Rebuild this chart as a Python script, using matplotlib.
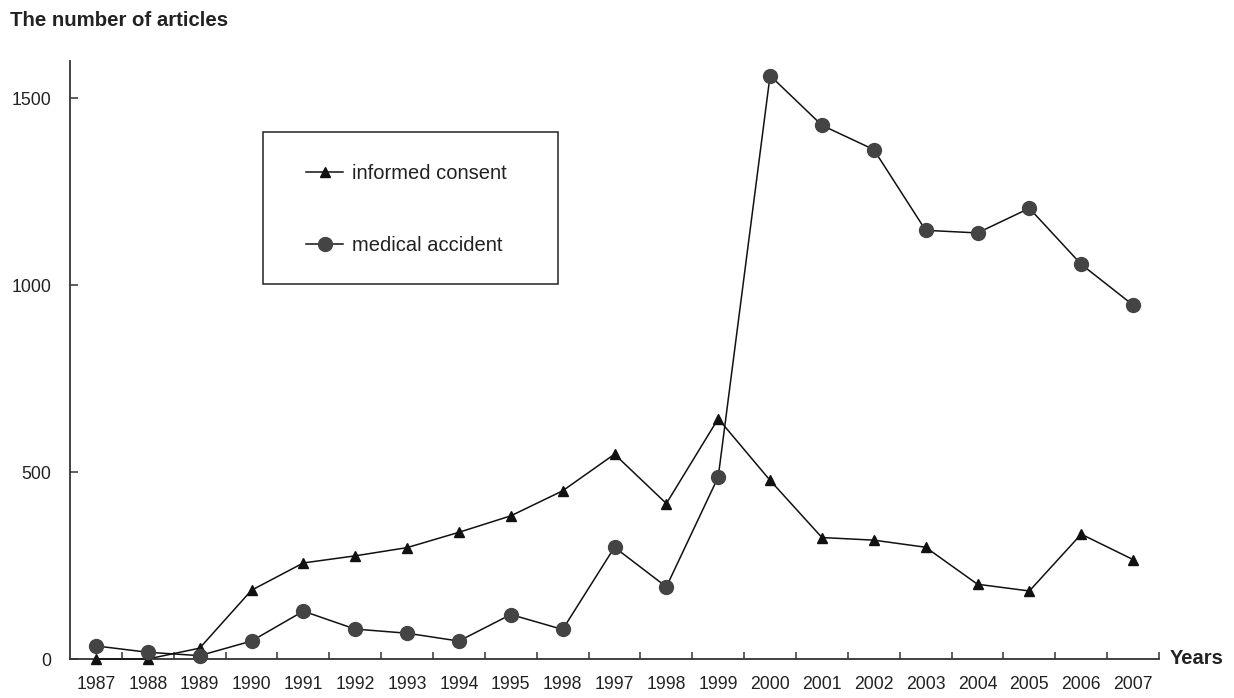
import matplotlib
matplotlib.use("Agg")
import matplotlib.pyplot as plt
import numpy as np
from matplotlib.patches import Rectangle

plt.rcParams['font.family'] = ['Liberation Sans', 'DejaVu Sans']

# tick labels as printed in the source (1996 is printed as "1998")
years = ["1987", "1988", "1989", "1990", "1991", "1992", "1993", "1994", "1995", "1998",
         "1997", "1998", "1999", "2000", "2001", "2002", "2003", "2004", "2005", "2006", "2007"]
informed_consent = [0, 0, 29, 184, 257, 276, 298, 339, 383, 450,
                    548, 416, 643, 478, 325, 318, 299, 200, 182, 334, 266]
medical_accident = [35, 18, 9, 48, 128, 80, 69, 48, 119, 79,
                    299, 193, 487, 1561, 1428, 1363, 1147, 1140, 1206, 1056, 947]

fig = plt.figure(figsize=(12.34, 6.98), dpi=100)
ax = fig.add_axes([70/1234, 39/698, (1159-70)/1234, (659-61)/698])

x = np.arange(len(years))
ax.plot(x, informed_consent, '-', color='#111111', lw=1.1, marker='^', ms=7,
        mfc='#111111', mec='#111111', label='informed consent', clip_on=False, zorder=3)
ax.plot(x, medical_accident, '-', color='#111111', lw=1.1, marker='o', ms=10,
        mfc='#444444', mec='#444444', label='medical accident', clip_on=False, zorder=3)

ax.set_xlim(-0.5, 20.5)
ax.set_ylim(0, 1600)

for s in ['top', 'right']:
    ax.spines[s].set_visible(False)
for s in ['left', 'bottom']:
    ax.spines[s].set_color('#333333')
    ax.spines[s].set_linewidth(1.3)

ax.set_xticks(x)
ax.set_xticklabels(years)
ax.set_xticks(np.arange(0.5, 21, 1), minor=True)
ax.tick_params(axis='x', which='major', length=0, pad=12, labelsize=12.7, labelcolor='#222222')
ax.tick_params(axis='x', which='minor', direction='in', length=5, width=1.1, color='#333333')
ax.set_yticks([0, 500, 1000, 1500])
ax.tick_params(axis='y', direction='in', length=6, width=1.1, color='#333333',
               pad=13.5, labelsize=12.7, labelcolor='#222222')

fig.text(10/1234, 1 - 20/698, "The number of articles", fontsize=14.7, fontweight='bold',
         color='#222222', va='center', ha='left')
fig.text(1170/1234, 1 - 659/698, "Years", fontsize=14.5, fontweight='bold',
         color='#222222', va='center', ha='left')

# legend box
fig.patches.append(Rectangle((263/1234, 1 - 284/698), (558-263)/1234, (284-132)/698,
                             transform=fig.transFigure, fill=False, edgecolor='#222222', lw=1.1))
leg = ax.legend(loc='upper left', bbox_to_anchor=(288/1234, 1 - 146/698),
                bbox_transform=fig.transFigure, frameon=False, fontsize=14.5,
                handlelength=1.85, handletextpad=0.45, labelspacing=2.62)
for t in leg.get_texts():
    t.set_color('#222222')

fig.savefig("out.png", dpi=100)
